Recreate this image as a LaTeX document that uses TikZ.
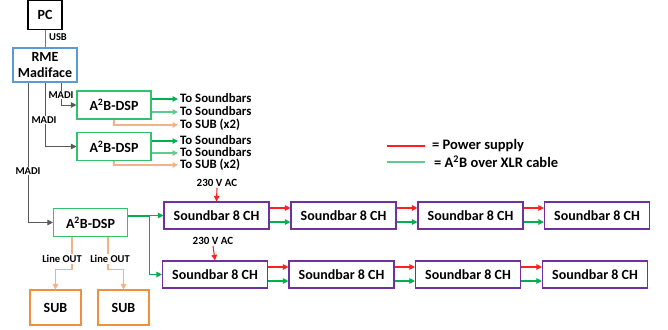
\documentclass[tikz,border=0pt]{standalone}
\usepackage{fontspec}
\setmainfont{Carlito}
\usepackage{xcolor}
\usepackage{tikz}
\usetikzlibrary{arrows.meta}

\definecolor{madigray}{HTML}{595959}
\definecolor{rmeblue}{HTML}{5B9BD5}
\definecolor{dspgreen}{HTML}{33C26A}
\definecolor{xlrgreen}{HTML}{00B050}
\definecolor{xlrlight}{HTML}{5FCB8E}
\definecolor{pwrred}{HTML}{FF2020}
\definecolor{subline}{HTML}{F4B183}
\definecolor{subbox}{HTML}{F0903E}
\definecolor{sbpurple}{HTML}{7030A0}

\tikzset{
  box/.style={draw, line width=1.1pt, align=center, inner sep=0pt,
    font=\bfseries\fontsize{14}{15.5}\selectfont},
  lbl/.style={font=\bfseries\fontsize{10.5}{11}\selectfont, inner sep=1pt},
  outtxt/.style={anchor=west, inner sep=0pt, text height=8.5pt, text depth=1.5pt,
    font=\bfseries\fontsize{12.8}{13}\selectfont},
  legtxt/.style={anchor=west, inner sep=1pt, font=\bfseries\fontsize{14.5}{15}\selectfont},
  tip/.style={-{Triangle[length=5.5pt,width=5.5pt]}},
  madi/.style={madigray, line width=1pt},
  a2b/.style={tip, xlrgreen, line width=1.1pt},
  a2blight/.style={tip, xlrlight, line width=1.1pt},
  pwr/.style={tip, pwrred, line width=1.1pt},
  lineout/.style={tip, subline, line width=1.1pt}
}

\begin{document}
\begin{tikzpicture}[x=1pt, y=-1pt]
  \useasboundingbox (0,0) rectangle (668,329);

  % computer and interface
  \node[box, minimum width=34pt, minimum height=29pt] (pc) at (45,15) {PC};
  \node[box, draw=rmeblue, minimum width=64pt, minimum height=34pt] (rme) at (45,65) {RME\\Madiface};
  \draw[madigray!80, line width=1pt] (pc)--(rme);
  \node[lbl] at (58,37) {USB};

  % dsp units
  \begin{scope}[every node/.style={box, draw=dspgreen, minimum width=74pt, minimum height=28pt}]
    \node (dspA) at (114,105) {A\textsuperscript{2}B-DSP};
    \node (dspB) at (114,146.5) {A\textsuperscript{2}B-DSP};
    \node (dspC) at (90.5,222.5) {A\textsuperscript{2}B-DSP};
  \end{scope}

  \draw[madi, tip] ([xshift=16pt]rme.south) |- (dspA.west);
  \draw[madi, tip] (rme.south) |- (dspB.west);
  \draw[madi, tip] ([xshift=-17pt]rme.south) |- (dspC.west);
  \node[lbl, fill=white] at (61,95) {MADI};
  \node[lbl, fill=white] at (44,120) {MADI};
  \node[lbl, fill=white] at (28,171) {MADI};

  % outputs of the first two dsp
  \node[outtxt] (toA1) at (180,99) {To Soundbars};
  \node[outtxt] (toA2) at (180,112) {To Soundbars};
  \node[outtxt] (toA3) at (180,125) {To SUB (x2)};
  \node[outtxt] (toB1) at (180,141) {To Soundbars};
  \node[outtxt] (toB2) at (180,153) {To Soundbars};
  \node[outtxt] (toB3) at (180,165) {To SUB (x2)};
  \draw[a2b] (dspA.east |- toA1.west) -- ([xshift=-2pt]toA1.west);
  \draw[a2blight] (dspA.east |- toA2.west) -- ([xshift=-2pt]toA2.west);
  \draw[lineout] (dspA.south) |- ([xshift=-2pt]toA3.west);
  \draw[a2b] (dspB.east |- toB1.west) -- ([xshift=-2pt]toB1.west);
  \draw[a2blight] (dspB.east |- toB2.west) -- ([xshift=-2pt]toB2.west);
  \draw[lineout] (dspB.south) |- ([xshift=-2pt]toB3.west);

  % subwoofers
  \begin{scope}[every node/.style={box, draw=subbox, minimum width=51pt, minimum height=35pt}]
    \node (subA) at (55.5,307.5) {SUB};
    \node (subB) at (123.5,307.5) {SUB};
  \end{scope}
  \draw[lineout] ([xshift=-18.5pt]dspC.south) -- ++(0,32) -| (subA.north);
  \draw[lineout] ([xshift=17.5pt]dspC.south) -- ++(0,32) -| (subB.north);
  \node[lbl, fill=white] at (62,259) {Line OUT};
  \node[lbl, fill=white] at (110,259) {Line OUT};

  % soundbar chains
  \begin{scope}[every node/.style={box, draw=sbpurple, minimum width=105pt, minimum height=27pt}]
    \node (sbA1) at (216.5,215.5) {Soundbar 8 CH};
    \node (sbA2) at (343.5,215.5) {Soundbar 8 CH};
    \node (sbA3) at (470.5,215.5) {Soundbar 8 CH};
    \node (sbA4) at (597,215.5) {Soundbar 8 CH};
    \node (sbB1) at (215,274.5) {Soundbar 8 CH};
    \node (sbB2) at (341.5,274.5) {Soundbar 8 CH};
    \node (sbB3) at (468,274.5) {Soundbar 8 CH};
    \node (sbB4) at (595,274.5) {Soundbar 8 CH};
  \end{scope}

  \draw[a2b] (dspC.east |- sbA1.west) -- (sbA1.west);
  \draw[a2b] ([yshift=6.5pt]dspC.east) -- ++(21,0) |- (sbB1.west);

  \foreach \r in {A,B}{
    \draw[pwr] ([yshift=7.5pt]sb\r1.east) -- ([yshift=7.5pt]sb\r2.west);
    \draw[pwr] ([yshift=7.5pt]sb\r2.east) -- ([yshift=7.5pt]sb\r3.west);
    \draw[pwr] ([yshift=7.5pt]sb\r3.east) -- ([yshift=7.5pt]sb\r4.west);
    \draw[a2b] ([yshift=-6.5pt]sb\r1.east) -- ([yshift=-6.5pt]sb\r2.west);
    \draw[a2b] ([yshift=-6.5pt]sb\r2.east) -- ([yshift=-6.5pt]sb\r3.west);
    \draw[a2b] ([yshift=-6.5pt]sb\r3.east) -- ([yshift=-6.5pt]sb\r4.west);
  }

  \node[lbl, font=\bfseries\fontsize{11}{12}\selectfont] (acA) at (217,183) {230 V AC};
  \node[lbl, font=\bfseries\fontsize{11}{12}\selectfont] (acB) at (213,241) {230 V AC};
  \draw[pwr] (acA.south) -- (sbA1.north);
  \draw[pwr] (acB.south) -- (sbB1.north);

  % legend
  \node[legtxt] (lgA) at (431,146) {= Power supply};
  \node[legtxt] (lgB) at (433,162) {= A\textsuperscript{2}B over XLR cable};
  \draw[pwrred, line width=1.1pt] (387,146) -- (425,146);
  \draw[xlrlight, line width=1.6pt] (387,162) -- (425,162);
\end{tikzpicture}
\end{document}
